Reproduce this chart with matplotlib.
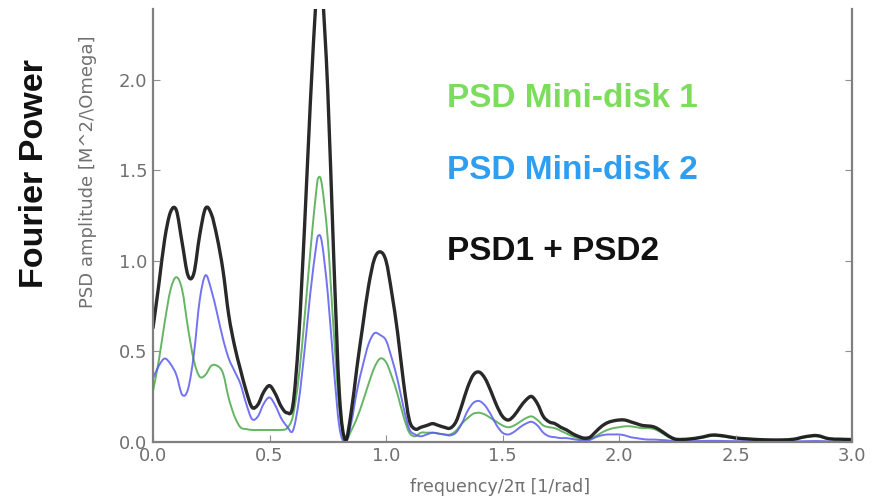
import numpy as np
import matplotlib
matplotlib.use("Agg")
import matplotlib.pyplot as plt
from matplotlib.path import Path
from matplotlib.patches import PathPatch

# frequency grid (frequency / 2pi, 1/rad)
freq = [0.000, 0.025, 0.050, 0.075, 0.100, 0.125, 0.150, 0.175, 0.200, 0.225,
        0.250, 0.275, 0.300, 0.325, 0.350, 0.375, 0.400, 0.425, 0.450, 0.475,
        0.500, 0.525, 0.550, 0.575, 0.600, 0.625, 0.650, 0.675, 0.700, 0.710,
        0.725, 0.750, 0.775, 0.800, 0.825, 0.850, 0.875, 0.900, 0.925, 0.950,
        0.975, 1.000, 1.025, 1.050, 1.075, 1.100, 1.125, 1.150, 1.175, 1.200,
        1.225, 1.250, 1.275, 1.300, 1.325, 1.350, 1.375, 1.400, 1.425, 1.450,
        1.475, 1.500, 1.525, 1.550, 1.575, 1.600, 1.625, 1.650, 1.675, 1.700,
        1.725, 1.750, 1.775, 1.800, 1.825, 1.850, 1.875, 1.900, 1.925, 1.950,
        1.975, 2.000, 2.025, 2.050, 2.075, 2.100, 2.125, 2.150, 2.175, 2.200,
        2.225, 2.250, 2.300, 2.350, 2.400, 2.450, 2.500, 2.550, 2.600, 2.650,
        2.700, 2.750, 2.800, 2.850, 2.900, 2.950, 3.000]

# PSD of mini-disk 1
psd1 = [0.28, 0.45, 0.66, 0.84, 0.91, 0.84, 0.63, 0.45, 0.36, 0.37,
        0.42, 0.42, 0.38, 0.24, 0.14, 0.08, 0.07, 0.065, 0.065, 0.065,
        0.065, 0.065, 0.065, 0.075, 0.14, 0.35, 0.68, 1.05, 1.38, 1.46,
        1.42, 1.12, 0.62, 0.18, 0.01, 0.06, 0.13, 0.22, 0.32, 0.41,
        0.46, 0.44, 0.36, 0.26, 0.14, 0.05, 0.03, 0.05, 0.05, 0.05,
        0.045, 0.04, 0.04, 0.06, 0.10, 0.13, 0.155, 0.16, 0.15, 0.13,
        0.11, 0.09, 0.08, 0.09, 0.11, 0.13, 0.14, 0.12, 0.09, 0.08,
        0.075, 0.06, 0.045, 0.03, 0.02, 0.012, 0.015, 0.03, 0.05, 0.065,
        0.075, 0.08, 0.085, 0.085, 0.08, 0.075, 0.075, 0.07, 0.055, 0.035,
        0.018, 0.01, 0.012, 0.02, 0.032, 0.028, 0.018, 0.013, 0.01, 0.008,
        0.008, 0.012, 0.025, 0.03, 0.015, 0.012, 0.01]

# PSD of mini-disk 2
psd2 = [0.35, 0.42, 0.46, 0.43, 0.37, 0.26, 0.29, 0.48, 0.78, 0.92,
        0.84, 0.71, 0.57, 0.46, 0.39, 0.32, 0.21, 0.125, 0.14, 0.21,
        0.245, 0.20, 0.13, 0.085, 0.06, 0.22, 0.50, 0.82, 1.08, 1.14,
        1.10, 0.82, 0.42, 0.08, 0.0, 0.10, 0.28, 0.42, 0.54, 0.60,
        0.59, 0.56, 0.46, 0.34, 0.19, 0.07, 0.04, 0.03, 0.04, 0.05,
        0.045, 0.04, 0.035, 0.05, 0.10, 0.17, 0.215, 0.225, 0.20, 0.15,
        0.09, 0.05, 0.04, 0.055, 0.08, 0.10, 0.11, 0.09, 0.05, 0.03,
        0.025, 0.02, 0.02, 0.015, 0.01, 0.008, 0.01, 0.025, 0.035, 0.04,
        0.04, 0.04, 0.035, 0.025, 0.02, 0.015, 0.012, 0.012, 0.01, 0.008,
        0.005, 0.003, 0.003, 0.004, 0.005, 0.004, 0.003, 0.003, 0.002, 0.002,
        0.002, 0.002, 0.003, 0.004, 0.002, 0.002, 0.002]

freq = np.array(freq)
psd1 = np.array(psd1)
psd2 = np.array(psd2)
total = psd1 + psd2


def smooth_path(x, y):
    # Catmull-Rom curve through the points, as cubic Bezier segments
    pts = np.column_stack([x, y])
    ext = np.vstack([pts[0], pts, pts[-1]])
    verts = [pts[0]]
    codes = [Path.MOVETO]
    for i in range(len(pts) - 1):
        p0, p1, p2, p3 = ext[i], ext[i + 1], ext[i + 2], ext[i + 3]
        verts += [p1 + (p2 - p0) / 6.0, p2 - (p3 - p1) / 6.0, p2]
        codes += [Path.CURVE4] * 3
    return Path(verts, codes)


fig = plt.figure(figsize=(8.81, 4.98), dpi=100)
ax = fig.add_axes([0.1737, 0.113, 0.7934, 0.869])

for series, color, lw, alpha in [(psd1, "#4aa84a", 1.4, 0.85),
                                 (psd2, "#5a5af0", 1.4, 0.85),
                                 (total, "#111111", 2.4, 0.9)]:
    ax.add_patch(PathPatch(smooth_path(freq, series), fill=False,
                           edgecolor=color, lw=lw, alpha=alpha,
                           capstyle="round", joinstyle="round"))

ax.set_xlim(0, 3.0)
ax.set_ylim(0, 2.393)
ax.set_xticks(np.arange(0, 3.01, 0.5))
ax.set_yticks(np.arange(0, 2.01, 0.5))
ax.xaxis.set_major_formatter(matplotlib.ticker.FormatStrFormatter("%.1f"))
ax.yaxis.set_major_formatter(matplotlib.ticker.FormatStrFormatter("%.1f"))

ax.spines["top"].set_visible(False)
for side in ["left", "right", "bottom"]:
    ax.spines[side].set_color("#808080")
    ax.spines[side].set_linewidth(1.6)
ax.tick_params(direction="in", length=5, width=0.8, color="#909090",
               labelcolor="#707070", labelsize=13, right=True, pad=4)

ax.set_xlabel("frequency/2\u03c0 [1/rad]", fontsize=12.5, color="#707070")
ax.set_ylabel("PSD amplitude [M^2/\\Omega]", fontsize=13, color="#707070")
ax.yaxis.set_label_coords(-0.080, 0.623)
ax.xaxis.set_label_coords(0.497, -0.083)

bold = dict(family=["Liberation Sans", "DejaVu Sans"], fontweight="bold")
fig.text(0.507, 0.785, "PSD Mini-disk 1", color="#7cdc5c", fontsize=24, **bold)
fig.text(0.507, 0.641, "PSD Mini-disk 2", color="#2f9ef0", fontsize=24, **bold)
fig.text(0.507, 0.478, "PSD1 + PSD2", color="#111111", fontsize=24, **bold)
fig.text(35 / 881, 1 - 173 / 498, "Fourier Power", rotation=90,
         ha="center", va="center", color="#111111", fontsize=24.5, **bold)

fig.savefig("out.png", dpi=100)
